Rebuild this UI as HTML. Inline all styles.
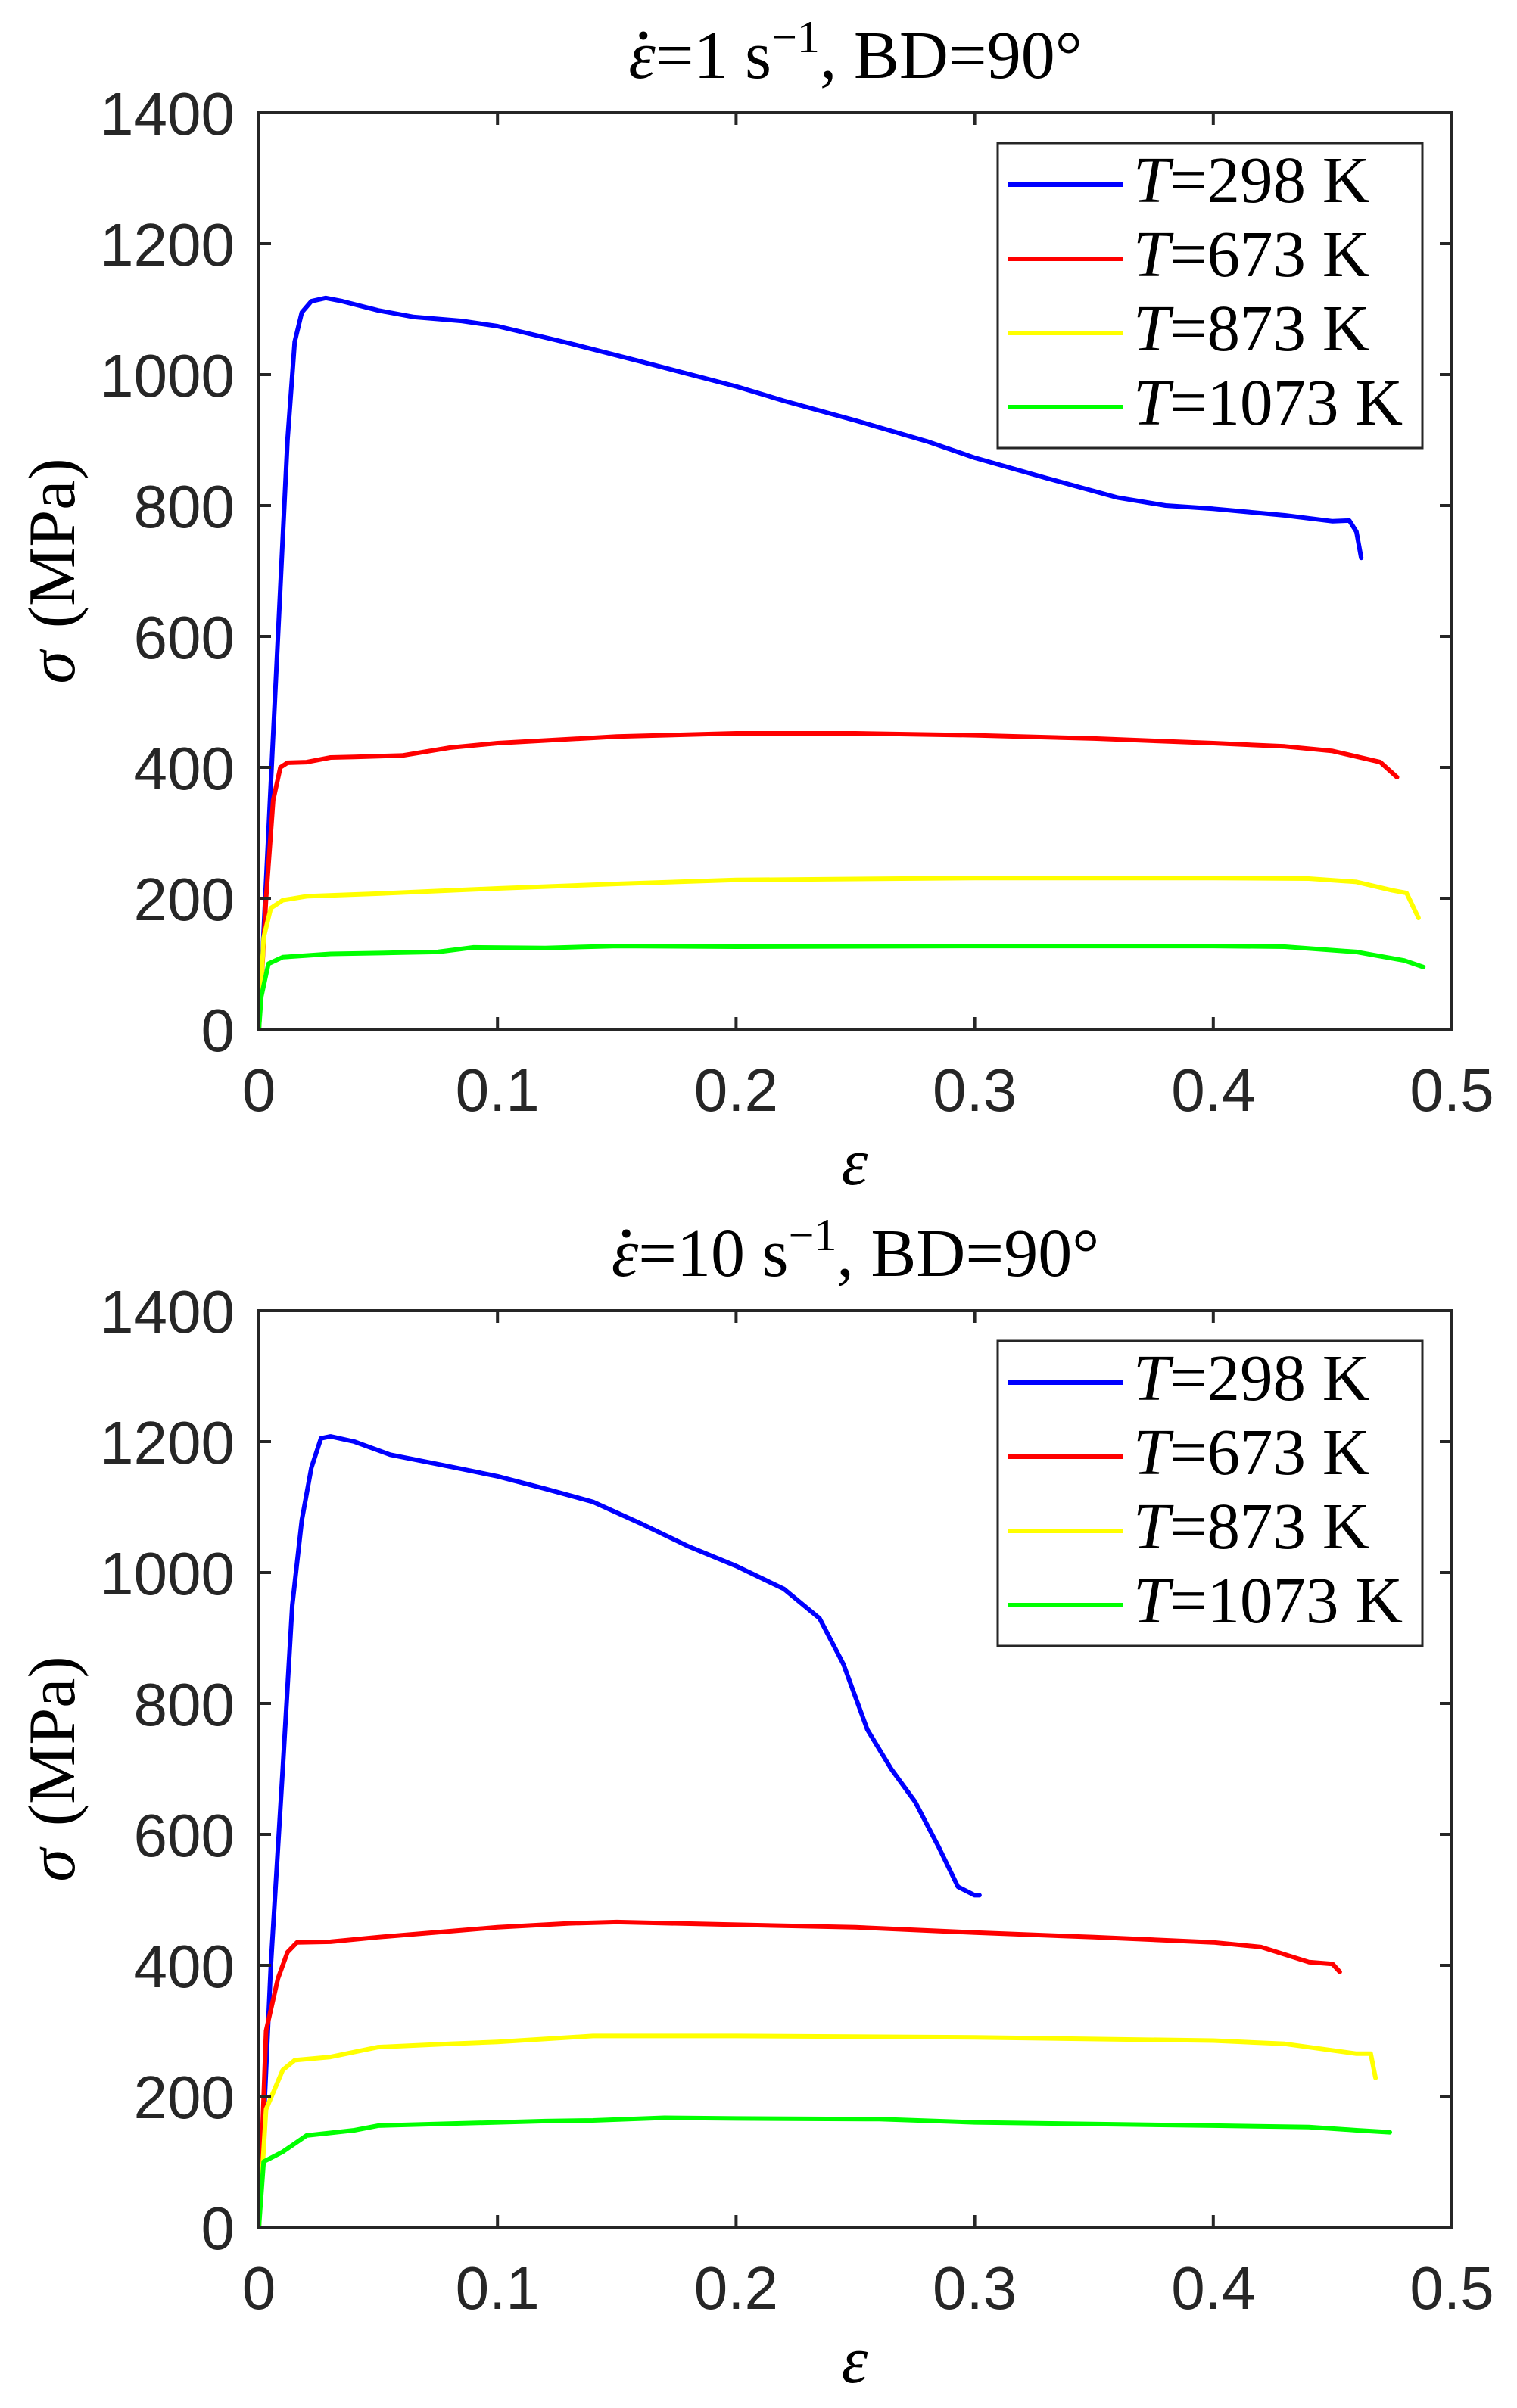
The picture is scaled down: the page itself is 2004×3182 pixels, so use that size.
<!DOCTYPE html>
<html><head><meta charset="utf-8"><style>
html,body{margin:0;padding:0;background:#fff;}
svg{display:block;}
text{fill:#262626;}
.tick{font-family:"Liberation Sans",sans-serif;font-size:80px;}
.serif{font-family:"Liberation Serif",serif;fill:#000;}
</style></head><body>
<svg id="fig" width="2004" height="3182" viewBox="0 0 2004 3182" xmlns="http://www.w3.org/2000/svg"></svg>
<script>
const xTicks=[0,0.1,0.2,0.3,0.4,0.5];
const xTickLabels=["0","0.1","0.2","0.3","0.4","0.5"];
const yTicks=[0,200,400,600,800,1000,1200,1400];
const yTickLabels=["0","200","400","600","800","1000","1200","1400"];
const seriesNames=["T=298 K","T=673 K","T=873 K","T=1073 K"];
const seriesTemps=["298","673","873","1073"];
const seriesColors=["#0000ff","#ff0000","#ffff00","#00ff00"];
const top298=[[0,0],[0.004,300],[0.008,600],[0.012,900],[0.015,1050],[0.018,1095],[0.022,1112],[0.028,1117],[0.035,1112],[0.05,1098],[0.065,1088],[0.085,1082],[0.1,1074],[0.13,1048],[0.16,1020],[0.2,982],[0.22,960],[0.25,930],[0.28,898],[0.3,873],[0.33,842],[0.36,812],[0.38,800],[0.4,795],[0.43,785],[0.45,776],[0.457,777],[0.46,760],[0.462,720]];
const top673=[[0,0],[0.003,200],[0.006,350],[0.009,400],[0.012,407],[0.02,408],[0.03,415],[0.04,416],[0.06,418],[0.08,430],[0.1,437],[0.15,447],[0.2,452],[0.25,452],[0.3,449],[0.35,444],[0.4,437],[0.43,432],[0.45,425],[0.47,408],[0.477,385]];
const top873=[[0,0],[0.002,140],[0.005,185],[0.01,197],[0.02,203],[0.05,207],[0.1,215],[0.15,222],[0.2,228],[0.3,231],[0.4,231],[0.44,230],[0.46,225],[0.475,212],[0.481,208],[0.486,170]];
const top1073=[[0,0],[0.001,50],[0.004,100],[0.01,110],[0.03,115],[0.06,117],[0.075,118],[0.09,125],[0.12,124],[0.15,127],[0.2,126],[0.3,127],[0.4,127],[0.43,126],[0.46,118],[0.48,105],[0.488,95]];
const bot298=[[0,0],[0.005,400],[0.01,700],[0.014,950],[0.018,1080],[0.022,1160],[0.026,1205],[0.03,1208],[0.04,1200],[0.055,1180],[0.08,1162],[0.1,1147],[0.12,1128],[0.14,1108],[0.16,1075],[0.18,1040],[0.2,1010],[0.22,975],[0.235,930],[0.245,860],[0.255,760],[0.265,700],[0.275,650],[0.285,580],[0.293,520],[0.3,507],[0.302,507]];
const bot673=[[0,0],[0.003,300],[0.008,380],[0.012,420],[0.016,435],[0.03,436],[0.05,443],[0.08,452],[0.1,458],[0.13,464],[0.15,466],[0.2,462],[0.25,458],[0.3,450],[0.35,443],[0.4,435],[0.42,428],[0.44,405],[0.45,402],[0.453,390]];
const bot873=[[0,0],[0.003,180],[0.01,240],[0.015,255],[0.03,260],[0.05,275],[0.08,280],[0.1,283],[0.14,292],[0.2,292],[0.3,290],[0.4,285],[0.43,280],[0.46,265],[0.466,265],[0.468,228]];
const bot1073=[[0,0],[0.002,100],[0.01,115],[0.02,140],[0.04,148],[0.05,155],[0.08,158],[0.12,162],[0.14,163],[0.17,167],[0.2,166],[0.26,165],[0.3,160],[0.4,155],[0.44,153],[0.46,148],[0.474,145]];
const panelRates=["1","10"];

const NS="http://www.w3.org/2000/svg";
const svg=document.getElementById('fig');
function mk(tag,attrs,parent){const e=document.createElementNS(NS,tag);for(const k in attrs)e.setAttribute(k,attrs[k]);(parent||svg).appendChild(e);return e;}

function panel(idx,off,data){
  const L=342,R=1918,T=149+off,B=1360+off;
  const xs=v=>L+(v-0)/(0.5)*(R-L);
  const ys=v=>B-(v/1400)*(B-T);
  const g=mk('g',{});
  
  
  // title
  const ty=103+off;
  const t=mk('text',{x:(L+R)/2,y:ty,'text-anchor':'middle','font-size':90,class:'serif'},g);
  
  
  const a=mk('tspan',{'font-style':'italic'},t);a.textContent='ε';
  const b=mk('tspan',{},t);b.textContent='=' + panelRates[idx]+' s';
  const c=mk('tspan',{dy:-34,'font-size':60},t);c.textContent='−1';
  const d=mk('tspan',{dy:34},t);d.textContent=', BD=90°';
  try{
    const ex=t.getExtentOfChar(0);
    mk('circle',{cx:ex.x+ex.width*0.55,cy:ty-56,r:5.5,fill:'#000'},g);
  }catch(e){}
  // series
  data.forEach((pts,i)=>{
    const p=mk('polyline',{points:pts.map(q=>xs(q[0]).toFixed(1)+','+ys(q[1]).toFixed(1)).join(' '),fill:'none',stroke:seriesColors[i],'stroke-width':6,'stroke-linejoin':'round','stroke-linecap':'round'},g);
    
    
  });
  // axes box
  const box=mk('rect',{x:L,y:T,width:R-L,height:B-T,fill:'none',stroke:'#262626','stroke-width':4},g);
  
  
  xTicks.forEach((v,i)=>{
    const x=xs(v);
    mk('line',{x1:x,y1:B,x2:x,y2:B-16,stroke:'#262626','stroke-width':4},g);
    mk('line',{x1:x,y1:T,x2:x,y2:T+16,stroke:'#262626','stroke-width':4},g);
    const tl=mk('text',{x:x,y:B+108,'text-anchor':'middle',class:'tick'},g);
    
    
    tl.textContent=xTickLabels[i];
  });
  yTicks.forEach((v,i)=>{
    const y=ys(v);
    mk('line',{x1:L,y1:y,x2:L+16,y2:y,stroke:'#262626','stroke-width':4},g);
    mk('line',{x1:R,y1:y,x2:R-16,y2:y,stroke:'#262626','stroke-width':4},g);
    const tl=mk('text',{x:310,y:y+29,'text-anchor':'end',class:'tick'},g);
    
    
    tl.textContent=yTickLabels[i];
  });
  // axis labels
  const yl=mk('text',{x:0,y:0,'text-anchor':'middle','font-size':88,class:'serif',transform:`translate(98,${(T+B)/2}) rotate(-90)`},g);
  
  
  const s1=mk('tspan',{'font-style':'italic'},yl);s1.textContent='σ';
  const s2=mk('tspan',{dx:30},yl);s2.textContent='(MPa)';
  const xl=mk('text',{x:1129,y:B+205,'text-anchor':'middle','font-size':88,'font-style':'italic',class:'serif'},g);
  
  
  xl.textContent='ε';
  // legend
  const lg=mk('g',{},g);
  
  
  mk('rect',{x:1318,y:189+off,width:561,height:403,fill:'#fff',stroke:'#262626','stroke-width':3},lg);
  seriesNames.forEach((n,i)=>{
    const y=244+off+i*98;
    const e=mk('g',{},lg);
    
    
    mk('line',{x1:1332,y1:y,x2:1484,y2:y,stroke:seriesColors[i],'stroke-width':6},e);
    const tx=mk('text',{x:1497,y:y+23,'font-size':87,class:'serif'},e);
    const it=mk('tspan',{'font-style':'italic'},tx);it.textContent='T';
    const rs=mk('tspan',{},tx);rs.textContent='='+seriesTemps[i]+' K';
  });
}
panel(0,0,[top298,top673,top873,top1073]);
panel(1,1583,[bot298,bot673,bot873,bot1073]);
</script>
</body></html>
